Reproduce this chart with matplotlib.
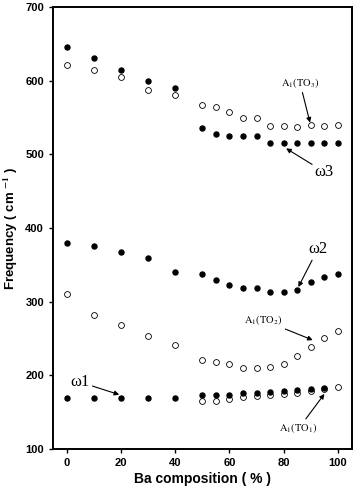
import matplotlib
matplotlib.use("Agg")
import matplotlib.pyplot as plt

plt.rcParams['mathtext.fontset'] = 'stix'

# Ba composition (%)
x_all = [0, 10, 20, 30, 40, 50, 55, 60, 65, 70, 75, 80, 85, 90, 95, 100]
x_hi = [50, 55, 60, 65, 70, 75, 80, 85, 90, 95, 100]

# upper branch
w3_filled = [645, 630, 615, 599, 590, 536, 527, 525, 525, 525, 515, 515, 515, 515, 515, 515]
to3_open = [621, 614, 605, 587, 581, 567, 564, 557, 549, 549, 539, 538, 537, 540, 539, 540]

# middle branch
w2_filled = [380, 375, 368, 360, 340, 338, 330, 323, 318, 318, 313, 313, 316, 327, 333, 338]
to2_open = [310, 282, 268, 253, 241, 221, 218, 216, 210, 210, 211, 216, 227, 239, 251, 261]

# lower branch
w1_x = [0, 10, 20, 30, 40, 50, 55, 60, 65, 70, 75, 80, 85, 90, 95]
w1_filled = [170, 170, 170, 170, 170, 173, 174, 174, 176, 176, 178, 179, 180, 181, 183]
to1_open = [166, 166, 168, 171, 172, 173, 175, 176, 179, 182, 184]

fig = plt.figure(figsize=(3.58, 4.92), dpi=100)
ax = fig.add_axes([0.148, 0.087, 0.834, 0.899])

filled = dict(marker='o', linestyle='none', color='black', markersize=3.6)
hollow = dict(marker='o', linestyle='none', markerfacecolor='none',
              markeredgecolor='black', markeredgewidth=0.6, markersize=4.2)

ax.plot(x_all, to3_open, **hollow)
ax.plot(x_all, w3_filled, **filled)
ax.plot(x_all, to2_open, **hollow)
ax.plot(x_all, w2_filled, **filled)
ax.plot(x_hi, to1_open, **hollow)
ax.plot(w1_x, w1_filled, **filled)

ax.set_xlim(-5, 105)
ax.set_ylim(100, 700)
ax.set_xticks(range(0, 101, 20))
ax.set_yticks(range(100, 701, 100))
for lab in ax.get_xticklabels() + ax.get_yticklabels():
    lab.set_fontweight('bold')
    lab.set_fontfamily('Liberation Sans')
ax.tick_params(labelsize=8, length=3, width=1)
for s in ax.spines.values():
    s.set_linewidth(1.4)

ax.set_xlabel('Ba composition ( % )', fontsize=10, fontweight='bold',
              family='Liberation Sans', labelpad=3)
ax.set_ylabel(r'Frequency ( cm $^{\mathbf{-1}}$ )', fontsize=9.5, fontweight='bold',
              family='Liberation Sans', labelpad=4)

arrow = dict(arrowstyle='-|>', color='black', lw=0.8, mutation_scale=7,
             shrinkA=0, shrinkB=0)
serif = 'Liberation Serif'

ax.annotate('ω1', xy=(19.4, 174), xytext=(5, 191), fontsize=12, family=serif,
            ha='center', va='center', arrowprops=arrow)
ax.annotate('ω2', xy=(85.4, 320), xytext=(92.5, 371), fontsize=12, family=serif,
            ha='center', va='center', arrowprops=arrow)
ax.annotate('ω3', xy=(80.9, 508), xytext=(95, 476), fontsize=12, family=serif,
            ha='center', va='center', arrowprops=arrow)
ax.annotate(r'$\mathrm{A_1(TO_3)}$', xy=(89.7, 543), xytext=(86, 597), fontsize=7.5,
            ha='center', va='center', arrowprops=arrow)
ax.annotate(r'$\mathrm{A_1(TO_2)}$', xy=(90.7, 248), xytext=(72.5, 275), fontsize=7.5,
            ha='center', va='center', arrowprops=arrow)
ax.annotate(r'$\mathrm{A_1(TO_1)}$', xy=(95, 175), xytext=(85.5, 128), fontsize=7.5,
            ha='center', va='center', arrowprops=arrow)

fig.savefig('out.png', dpi=100)
